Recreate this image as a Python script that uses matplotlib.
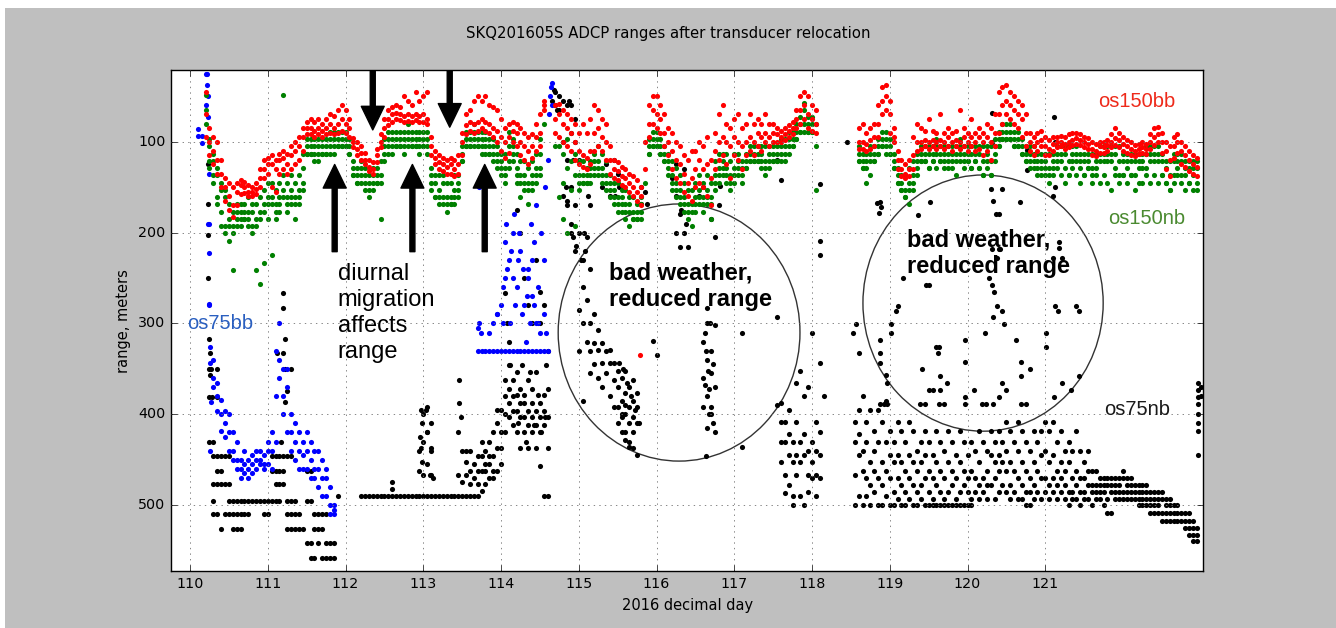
import numpy as np
import matplotlib.pyplot as plt
from matplotlib.patches import Ellipse, Rectangle

N = None

# Ranges, one row of 20 values per day (0.05 day steps).
# os150bb (red): middle, upper and lower edge of the band
bb150_mid = {
    110: [N, N, N, N, 70, 100, 110, 120, 135, 150, 160, 170, 155, 148, 150, 155, 155, 152, 140, 130],
    111: [125, 125, 130, 120, 118, 125, 115, 110, 105, 95, 85, 85, 88, 85, 88, 85, 80, 85, 80, 75],
    112: [80, 85, 100, 108, 112, 120, 128, 130, 115, 100, 85, 75, 70, 68, 70, 72, 70, 72, 70, 72],
    113: [70, 75, 105, 118, 122, 125, 128, 125, 130, 125, 100, 82, 78, 80, 78, 75, 78, 80, 85, 88],
    114: [95, 100, 95, 88, 90, 100, 105, 110, 105, 95, 90, 60, N, N, 75, 70, 80, 85, 90, 100],
    115: [110, 115, 118, 110, 90, 85, 95, 100, 120, 130, 132, 138, 140, 145, 150, 155, 160, 130, 80, 65],
    116: [70, 75, 90, 100, 110, 120, 125, 135, 145, 140, 130, 120, 130, 125, 140, 110, 100, 95, 100, 105],
    117: [95, 100, 105, 100, 95, 100, 90, 95, 90, 95, 90, 92, 95, 92, 88, 85, 75, 65, 60, 70],
    118: [75, 80, N, N, N, N, N, N, N, N, N, N, 100, 100, 102, 98, 95, 80, 55, 50],
    119: [70, 95, 120, 130, 135, 130, 115, 100, 100, 98, 100, 98, 100, 98, 100, 95, 100, 98, 100, 95],
    120: [100, 95, 100, 95, 100, 95, 100, 90, 70, 60, 55, 60, 65, 70, 75, 90, 100, 105, 100, 98],
    121: [105, 108, 102, 100, 100, 102, 100, 98, 96, 98, 100, 102, 108, 110, 105, 106, 104, 100, 96, 98],
    122: [102, 105, 108, 110, 108, 106, 108, 100, 95, 92, 100, 110, 120, 105, 100, 110, 115, 120, 125, 128],
}
bb150_top = {
    110: [N, N, N, N, 45, 85, 95, 100, 120, 140, 145, 150, 145, 142, 144, 148, 150, 145, 130, 120],
    111: [118, 115, 120, 113, 110, 113, 105, 100, 95, 85, 78, 75, 78, 75, 80, 75, 70, 72, 65, 60],
    112: [65, 75, 96, 100, 105, 112, 120, 122, 108, 92, 75, 65, 62, 60, 62, 50, 55, 60, 45, 55],
    113: [50, 45, 95, 110, 115, 118, 120, 118, 120, 115, 90, 70, 65, 55, 50, 55, 50, 60, 62, 65],
    114: [75, 85, 80, 78, 80, 85, 90, 95, 92, 80, 70, 55, N, N, 60, 58, 65, 70, 75, 80],
    115: [90, 80, 90, 75, 60, 65, 75, 80, 105, 120, 122, 128, 130, 135, 138, 142, 150, 100, 60, 50],
    116: [50, 60, 70, 85, 90, 100, 105, 115, 120, 110, 110, 100, 105, 95, 120, 90, 70, 60, 80, 85],
    117: [75, 70, 85, 80, 70, 80, 75, 80, 70, 80, 80, 85, 88, 85, 82, 78, 65, 50, 45, 50],
    118: [60, 65, N, N, N, N, N, N, N, N, N, N, 85, 80, 90, 85, 80, 60, 40, 38],
    119: [55, 85, 110, 120, 125, 120, 95, 80, 85, 88, 75, 88, 90, 70, 90, 85, 90, 88, 65, 85],
    120: [90, 75, 90, 85, 90, 80, 85, 70, 45, 40, 38, 45, 50, 55, 60, 70, 90, 95, 90, 88],
    121: [95, 98, 95, 95, 94, 95, 92, 90, 90, 92, 95, 96, 100, 102, 100, 100, 98, 92, 85, 90],
    122: [95, 98, 100, 104, 102, 100, 102, 92, 85, 84, 90, 100, 105, 95, 92, 100, 105, 110, 115, 118],
}
bb150_low = {
    110: [N, N, N, N, 95, 115, 125, 135, 150, 165, 175, 183, 170, 158, 156, 160, 160, 158, 150, 140],
    111: [135, 150, 155, 135, 130, 135, 130, 125, 120, 110, 92, 92, 95, 92, 95, 92, 90, 92, 90, 88],
    112: [90, 95, 106, 115, 120, 125, 132, 135, 122, 106, 95, 82, 78, 75, 76, 78, 77, 78, 76, 78],
    113: [78, 80, 115, 125, 130, 132, 135, 135, 138, 135, 115, 92, 88, 90, 88, 85, 88, 90, 95, 100],
    114: [110, 118, 112, 100, 105, 115, 120, 125, 118, 110, 105, 65, N, N, 90, 95, 100, 105, 110, 120],
    115: [125, 128, 130, 125, 110, 105, 110, 120, 135, 140, 142, 148, 150, 155, 160, 165, 170, N, 95, 80],
    116: [85, 90, 105, 115, 130, 140, 145, 155, 160, 165, 150, 145, 150, 160, 170, 130, 120, 115, 125, 140],
    117: [115, 120, 130, 115, 110, 115, 105, 110, 100, 105, 100, 100, 100, 98, 95, 92, 85, 80, 75, 85],
    118: [88, 90, N, N, N, N, N, N, N, N, N, N, 108, 108, 110, 108, 105, 95, 70, 65],
    119: [90, 100, 130, 138, 140, 138, 130, 110, 108, 105, 108, 105, 108, 105, 108, 105, 110, 105, 108, 105],
    120: [110, 105, 110, 108, 115, 110, 120, 105, 90, 80, 70, 75, 80, 85, 95, 105, 110, 115, 110, 105],
    121: [115, 115, 110, 106, 105, 108, 106, 104, 102, 104, 106, 108, 115, 116, 112, 112, 110, 106, 104, 106],
    122: [110, 112, 115, 116, 114, 112, 114, 108, 104, 100, 112, 130, 138, 118, 112, 125, 128, 132, 135, 138],
}

# os150nb (green): four bin rows
nb150_a = {
    110: [N, N, N, N, 65, 105, 121, 137, 145, 161, 169, 177, 177, 177, 169, 177, 177, 169, 161, 153],
    111: [145, 145, 153, 145, 137, 145, 137, 145, 137, 113, 97, 97, 105, 97, 97, 97, 89, 97, 89, 89],
    112: [89, 97, 121, 129, 129, 137, 137, 137, 129, 121, 105, 97, 97, 89, 89, 97, 89, 89, 89, 97],
    113: [89, 97, 129, 137, 137, 145, 145, 145, 137, 137, 105, 89, 89, 89, 89, 97, 97, 97, 105, 105],
    114: [113, 113, 105, 105, 113, 121, 121, 129, 121, 113, 113, 81, N, N, 105, 105, 113, 97, 121, 113],
    115: [121, 121, 129, 121, 113, 105, 113, 121, 137, 145, 145, 153, 153, 161, 161, 169, 169, 145, 97, 89],
    116: [89, 97, 105, 113, 121, 129, 137, 145, 153, 153, 145, 137, 145, 137, 145, 121, 113, 113, 113, 121],
    117: [113, 113, 121, 113, 105, 105, 105, 105, 105, 105, 105, 105, 105, 105, 97, 89, 81, 73, 65, 73],
    118: [73, 81, N, N, N, N, N, N, N, N, N, N, 105, 113, 113, 105, 105, 97, 89, 89],
    119: [97, 113, 129, 137, 137, 129, 121, 113, 105, 105, 105, 105, 105, 105, 105, 105, 105, 105, 105, 105],
    120: [105, 105, 105, 105, 105, 105, 105, 97, 89, 81, 81, 81, 89, 89, 97, 105, 105, 105, 113, 113],
    121: [113, 113, 113, 105, 105, 105, 105, 105, 105, 113, 113, 113, 113, 113, 105, 105, 105, 105, 105, 105],
    122: [113, 113, 113, 113, 113, 113, 105, 105, 105, 105, 113, 121, 121, 113, 113, 113, 121, 121, 121, 121],
}
nb150_b = {
    110: [N, N, N, N, 81, 121, 137, 161, 177, 193, 185, 193, 185, 185, 177, 185, 193, 185, 177, 169],
    111: [161, 161, 169, 161, 153, 161, 153, 161, 153, 129, 105, 105, 113, 113, 105, 105, 105, 105, 97, 97],
    112: [97, 105, 129, 137, 137, 145, 145, 145, 137, 137, 113, 105, 105, 97, 97, 105, 97, 97, 97, 105],
    113: [97, 105, 137, 145, 153, 161, 161, 161, 153, 145, 113, 97, 97, 97, 97, 105, 105, 105, 113, 113],
    114: [121, 129, 121, 113, 129, 137, 137, 145, 137, 129, 129, N, N, N, N, 161, 145, 129, 153, 137],
    115: [137, 137, 137, 129, 121, 121, 129, 137, 145, 153, 161, 161, 169, 169, 177, 177, 177, N, 105, 97],
    116: [97, 105, 113, 121, 137, 145, 153, 161, 169, 169, 161, 153, 161, 153, 161, 137, 129, 121, 129, 137],
    117: [129, 121, 129, 121, 113, 113, 113, 113, 121, 113, 113, 113, 113, 113, 105, 97, 89, 81, 81, 81],
    118: [81, 105, N, N, N, N, N, N, N, N, N, N, 113, 121, 121, 113, 113, 105, 97, 97],
    119: [105, 121, 137, 145, 153, 145, 137, 121, 113, 113, 113, 113, 113, 113, 113, 113, 113, 113, 113, 113],
    120: [113, 113, 113, 113, 121, 113, 121, 105, 97, 89, 89, 89, 97, 97, 105, 113, 113, 113, 121, 121],
    121: [121, 129, 121, 113, 113, 113, 121, 113, 113, 121, 121, 121, 129, 121, 113, 113, 113, 113, 113, 121],
    122: [121, 121, 121, 121, 121, 121, 113, 113, 113, 113, 121, 129, 137, 121, 121, 121, 129, 129, 129, 129],
}
nb150_c = {
    110: [N, N, N, N, 49, 97, 113, 129, 153, 153, 209, 241, 169, 169, 185, 161, 169, 241, 257, 233],
    111: [185, 225, 185, 177, 49, 177, 169, 185, 169, 153, 113, 113, 97, 105, 113, 113, 97, 89, 105, 105],
    112: [105, 113, 137, 145, 121, 129, 161, 129, 145, 185, 97, 89, 89, 105, 105, 89, 81, 105, 105, 89],
    113: [105, 89, 145, 161, 169, 137, 177, 169, 169, 161, 121, 105, 105, 81, 105, 89, 89, 113, 97, 129],
    114: [137, 145, 89, 97, 145, 161, 153, 169, 153, 145, 97, N, N, N, N, N, 185, 201, N, 193],
    115: [153, 145, 145, 145, 137, 137, 145, 153, 161, 169, 177, 177, 185, 193, 185, 185, 161, N, 113, 105],
    116: [105, 113, 121, 137, 153, 161, 169, 177, 185, 193, 177, 169, 177, 169, 185, 153, 145, 137, 145, 153],
    117: [145, 137, 145, 129, 121, 121, 121, 129, 137, 129, 121, 121, 97, 97, 89, 105, 97, 89, 57, 89],
    118: [89, 153, N, N, N, N, N, N, N, N, N, N, 121, 129, 145, 137, 121, 113, 105, 113],
    119: [113, 129, 145, 153, 161, 169, 153, 137, 121, 121, 129, 121, 97, 121, 129, 121, 129, 121, 97, 121],
    120: [121, 129, 121, 129, 137, 129, 137, 121, 105, 97, 97, 97, 105, 105, 113, 121, 121, 129, 137, 129],
    121: [137, 145, 129, 121, 121, 129, 137, 121, 121, 129, 137, 129, 137, 129, 121, 121, 121, 121, 129, 137],
    122: [137, 129, 137, 137, 129, 129, 129, 121, 121, 121, 137, 145, 153, 137, 129, 137, 137, 145, 137, 145],
}
nb150_d = {
    110: [N, N, N, N, N, 129, 145, 169, 193, 201, 193, 201, 193, 193, 185, 193, 201, 193, 185, 177],
    111: [169, 169, 177, 169, 161, 169, 161, 169, 161, 145, 113, 113, 121, 121, 113, 113, 113, 113, 105, 105],
    112: [105, 113, 137, 145, 145, 153, 153, 153, 145, 145, 121, 113, 113, 105, 105, 113, 105, 105, 105, 113],
    113: [105, 113, 153, 161, 161, 169, 169, 169, 161, 153, 121, 105, 105, 105, 105, 113, 113, 113, 121, 121],
    114: [129, 137, 129, 121, 137, 145, 145, 153, 145, 137, 137, N, N, N, N, N, N, N, N, N],
    115: [145, 145, 145, 137, 129, 129, 137, 145, 153, 161, 169, 169, 177, 177, 185, 185, 185, N, 113, 105],
    116: [105, 113, 121, 129, 145, 153, 161, 169, 177, 177, 169, 161, 169, 161, 169, 145, 137, 129, 137, 145],
    117: [137, 129, 137, 129, 121, 121, 121, 121, 129, 121, 121, 121, 121, 121, 113, 105, 97, 89, 89, 89],
    118: [89, N, N, N, N, N, N, N, N, N, N, N, 121, 129, 129, 121, 121, 113, 105, 105],
    119: [113, 129, 145, 153, 161, 153, 145, 129, 121, 121, 129, 121, 129, 121, 121, 129, 121, 137, 121, 129],
    120: [121, 129, 121, 129, 137, 121, 137, 113, 105, 97, 97, 97, 105, 105, 113, 121, 129, 121, 129, 137],
    121: [129, 137, 137, 129, 137, 145, 137, 129, 137, 145, 137, 129, 145, 137, 145, 137, 145, 153, 137, 145],
    122: [137, 145, 137, 153, 145, 145, 137, 145, 137, 145, 137, 145, 153, 145, 137, 145, 153, 145, 153, 153],
}

# os75bb (blue)
bb75_a = {
    110: [N, N, 86, 94, 60, 280, 340, 380, 400, 410, 420, 440, 450, 460, 455, 450, 445, 450, 440, 445],
    111: [440, 420, 380, 360, 350, 370, 400, 430, 440, 430, 440, 450, 440, 460, 470, 460, 480, 500, N, N],
    113: [N] * 14 + [330, 330, 330, 330, 330, 330],
    114: [330, 330, 330, 330, 330, 330, 330, 330, 330, 330, 330, 330, 330, 60, N, N, N, N, N, N],
}
bb75_b = {
    110: [N, N, 94, 101, 25, 190, 370, 396, 418, 425, 440, 450, 460, 470, 465, 460, 455, 460, 450, 455],
    111: [455, 440, 430, 300, 400, 420, 440, 450, 460, 460, 460, 470, 460, 480, 450, 490, 500, 510, N, N],
    113: [N] * 14 + [305, N, N, 310, 300, 290],
    114: [280, 250, 230, 200, 260, 220, 280, 240, 270, 300, 310, 230, 120, 35, N, N, N, N, N, N],
}
bb75_c = {
    110: [N, N, N, N, N, N, 360, 366, 384, 396, 400, 420, 430, 450, 440, 470, 465, 440, 455, 460],
    111: [430, 460, 330, 340, 380, 350, 420, 410, 420, 445, 420, 430, 470, 440, 490, 470, 510, 505, N, N],
}
bb75_scatter = [
    (110.22, 25), (110.22, 38), (110.23, 50), (110.23, 73), (110.24, 135), (110.23, 190),
    (110.24, 223), (110.25, 279), (110.26, 326), (110.26, 344), (110.27, 386), (110.26, 440),
    (113.72, 300), (113.74, 310), (113.72, 150), (113.95, 290), (114.02, 300), (114.03, 260),
    (114.05, 210), (114.07, 190), (114.08, 240), (114.12, 300), (114.13, 220), (114.17, 180),
    (114.18, 280), (114.22, 230), (114.23, 200), (114.27, 290), (114.28, 240), (114.32, 320),
    (114.33, 270), (114.37, 300), (114.38, 190), (114.42, 280), (114.43, 210), (114.47, 260),
    (114.48, 300), (114.52, 200), (114.55, 290), (114.57, 150), (114.62, 70), (114.63, 50),
    (114.64, 40), (114.58, 310), (114.45, 170), (114.40, 230), (114.15, 250), (114.35, 250),
]

# os75nb (black): four bin rows plus scattered pings
nb75_a = {
    110: [N, N, N, N, N, 317, 446, 446, 446, 446, 446, N, N, N, N, N, N, N, N, N],
    111: [N, 446, 446, 446, 446, 446, 446, N, N, N, 462, 462, N, N, N, N, N, N, 490, N],
    112: [N, N, N, N] + [490] * 16,
    113: [490] * 15 + [484, 477, 470, 470, 462],
    114: [420, 400, 388, 380, 396, 388, 403, 412, 403, 396, 403, 412, 403, 55, 45, 50, 55, 60, 90, 100],
    115: [120, 230, 205, 240, N, N, 150, 125, 160, N, 352, 360, 352, 370, 362, 377, 150, N, N, 319],
    116: [335, N, N, N, 140, 160, 180, 130, N, N, N, 160, 320, 300, 330, 302, N, N, N, N],
    117: [N, N, 311, N, N, N, N, N, N, N, N, 293, 388, 409, 395, 430, 365, 352, 380, 370],
    118: [311, 409, 343, 380, N, N, N, N, N, N, N, 409, 395, 380, 409, 395, 418, 395, 409, 385],
    119: [418, 430, 409, 418, 430, 409, 418, 440, 430, 418, 430, 445, 418, 430, 440, 418, 430, 445, 418, 430],
    120: [445, 430, 440, 418, 430, 440, 418, 430, 418, 430, 409, 418, 430, 409, 418, 430, 440, 418, 430, 418],
    121: [409, 418, 409, 430, 418, 440, 430, 440, 418, 440, 452, 440, 462, 462, 470, 470, 470, 470, 470, 470],
    122: [462, 470, 470, 478, 478, 478, 478, 485, 485, 485, 485, 493, 493, 500, 500, 509, 509, 509, 517, 525],
}
nb75_b = {
    110: [N, N, N, N, N, 350, 477, 462, 462, 477, 477, 495, 495, 495, 495, 495, 495, 495, 495, 495],
    111: [495, 495, 495, 495, 477, 495, 495, 495, N, N, 495, 495, 510, 510, 510, 510, N, N, N, N],
    112: [N] * 12 + [475, N, N, N, N, N, N, 440],
    113: [400, 392, 410, N, N, N, N, N, N, 467, 475, 467, 462, 470, 462, 462, 455, 446, 446, 437],
    114: [395, 380, 372, 362, 379, 372, 388, 396, 388, 412, 388, 396, 437, N, 60, 65, 100, 120, 150, 170],
    115: [200, 260, 274, 300, 290, 307, 322, 330, 329, 344, 370, 385, 377, 392, 385, 392, 168, N, N, N],
    116: [N, N, N, N, N, 200, 216, N, N, N, N, N, 360, 340, 355, 370, 170, N, N, N],
    117: [N, N, 436, N, N, N, N, N, N, N, N, 390, 409, 430, 422, 452, 409, 430, 422, 440],
    118: [430, 440, 420, N, N, N, N, N, N, N, N, 430, 422, 440, 430, 452, 440, 430, 452, 430],
    119: [445, 452, 445, 452, 462, 445, 452, 462, 452, 445, 462, 470, 452, 462, 470, 452, 462, 470, 452, 462],
    120: [470, 462, 470, 452, 470, 462, 445, 452, 445, 452, 440, 452, 462, 440, 452, 462, 470, 452, 462, 445],
    121: [440, 452, 445, 462, 452, 462, 452, 470, 462, 470, 470, 462, 478, 478, 478, 478, 478, 478, 478, 478],
    122: [470, 478, 478, 485, 485, 485, 485, 493, 493, 493, 493, 500, 500, 509, 509, 517, 517, 517, 525, 533],
}
nb75_c = {
    110: [N, N, N, N, N, 381, 495, 477, 477, N, 495, 510, 510, 510, 510, 510, N, N, N, 510],
    111: [510, 462, 462, 462, 462, 510, 510, 510, 510, N, 542, 542, 526, 526, 526, 542, 542, 542, N, N],
    112: [N] * 12 + [482, N, N, N, N, N, N, 462],
    113: [430, 420, 440, N, N, N, N, N, N, 420, 440, 452, 477, 455, 446, 446, 440, 430, 420, 410],
    114: [437, 420, 403, 396, 419, 403, 419, 437, 419, 437, 419, 379, 372, N, N, N, 160, 170, 200, 220],
    115: [285, 300, 320, 330, 322, 329, 344, 355, 344, 362, 392, 403, 400, 410, 403, 410, N, N, N, N],
    116: [N] * 12 + [392, 380, 400, 420, N, N, N, N],
    117: [N] * 12 + [430, 467, 445, 490, 445, 452, 445, 467],
    118: [452, 467, 445, N, N, N, N, N, N, N, N, 467, 445, 462, 470, 478, 462, 470, 478, 462],
    119: [470, 485, 470, 478, 485, 470, 478, 485, 478, 470, 485, 493, 478, 485, 493, 485, 478, 493, 485, 478],
    120: [485, 493, 485, 478, 485, 478, 478, 470, 462, 478, 462, 478, 485, 470, 478, 485, 485, 478, 485, 470],
    121: [470, 478, 470, 478, 470, 478, 485, 485, 478, 485, 485, 478, 485, 485, 485, 485, 493, 485, 485, 485],
    122: [485, 485, 485, 493, 493, 493, 493, 500, 500, 500, 509, 509, 509, 517, 517, N, 525, 525, 533, 540],
}
nb75_d = {
    110: [N, N, N, N, N, 430, 510, 510, 526, 510, 510, 526, 526, 526, N, N, N, N, N, N],
    111: [N, N, 477, 477, N, 526, 526, 526, 526, 526, N, 558, 558, 542, 558, 558, 558, 558, N, N],
    113: [N, 455, 467] + [N] * 11 + [477, 430, 462, 455, 462, 395],
    114: [455, 362, 346, 412, 353, 437, 379, 362, 372, 353, 457, 490, 490, N, N, N, N, N, N, N],
    115: [330, 385, N, 355, 345, 360, 370, N, 380, 392, 410, 420, 428, 436, 420, 445, N, N, N, N],
    116: [N] * 12 + [150, 415, 185, 205, N, N, N, N],
    117: [N] * 12 + [452, 487, 478, 500, 467, 490, 500, 485],
    118: [470, 490, 470, N, N, N, N, N, N, N, N, 500, 490, 500, 490, 500, 485, 500, 500, 490],
    119: [500, 500, 493, 500, 500, 493, 500, 500, 493, 500, 500, 500, 500, 500, 500, 500, 500, 500, 500, 500],
    120: [500, 500, N, 493, N, 493, N, 493, 485, N, 485, 493, N, 493, 493, 500, 500, 493, N, 493],
    121: [485, 493, 485, 493, 485, 493, 500, 493, 493, 500, 493, 493, 500, 493, 493, 500, 509, 509, 493, 493],
    122: [493, 493, 493, N, 500, 500, 500, 509, 509, 509, 517, 517, 517, N, N, N, N, 533, 540, N],
}
nb75_scatter = [
    (110.23, 125), (110.23, 168), (110.23, 203), (110.23, 250), (110.26, 333), (110.27, 350),
    (110.26, 357), (110.28, 381), (110.35, 350), (110.35, 381), (110.30, 430),
    (111.20, 283), (111.20, 266), (111.22, 317), (111.20, 333), (111.22, 350), (111.30, 350),
    (111.25, 374), (111.22, 386), (111.12, 333), (111.17, 430),
    (112.97, 395), (112.98, 410), (112.97, 437), (112.98, 452), (113.00, 467), (113.05, 420),
    (113.04, 395), (113.10, 437), (113.08, 467), (112.96, 425), (113.13, 470),
    (113.46, 362), (113.46, 388), (113.48, 403), (113.55, 440), (113.60, 440),
    (114.05, 266), (114.08, 300), (114.10, 320), (114.50, 265), (114.55, 280), (114.50, 300),
    (114.60, 330), (114.58, 346), (114.40, 300), (114.20, 175), (114.25, 200), (114.35, 280),
    (114.45, 230), (114.30, 250), (114.12, 346), (114.22, 410), (114.32, 430), (114.42, 412),
    (114.52, 420), (114.57, 403), (114.47, 379), (114.37, 353), (114.27, 346),
    (114.68, 43), (114.72, 65), (114.87, 55), (114.90, 60), (114.95, 75), (114.93, 120),
    (114.83, 150), (114.85, 165), (114.90, 190), (114.93, 205), (114.97, 215), (115.03, 230),
    (115.07, 200), (115.08, 220), (115.12, 160), (115.15, 170),
    (115.45, 120), (115.50, 135), (115.52, 150), (115.47, 160), (115.85, 155), (115.88, 168),
    (115.52, 344), (115.57, 350), (115.62, 365), (115.67, 380), (115.72, 395), (115.77, 410),
    (115.60, 420), (115.65, 430), (115.70, 437), (115.55, 400), (115.60, 390),
    (116.25, 124), (116.32, 175), (116.35, 200), (116.40, 216), (116.38, 190), (116.82, 149),
    (116.62, 310), (116.64, 330), (116.66, 352), (116.68, 372), (116.70, 392), (116.72, 410),
    (116.65, 283), (116.69, 300), (116.73, 345), (116.62, 368), (116.67, 400), (116.63, 446),
    (117.55, 120), (117.60, 142), (118.10, 146), (118.10, 209), (118.10, 225), (118.84, 167),
    (118.86, 178), (118.45, 100), (118.87, 166), (118.89, 172), (119.36, 181), (119.52, 166),
    (120.31, 68), (120.31, 100), (120.30, 152), (120.45, 152), (120.33, 165), (120.37, 180),
    (120.40, 180), (120.68, 166), (120.77, 109), (120.77, 131), (121.11, 73), (121.12, 100),
    (121.12, 150), (121.10, 160), (121.18, 210), (121.18, 217), (121.10, 228), (121.22, 228),
    (120.31, 218), (120.40, 218), (120.42, 218), (120.38, 228), (120.27, 250), (120.32, 258),
    (120.34, 265), (119.17, 250), (119.47, 258), (119.51, 258), (119.10, 281), (120.38, 281),
    (121.13, 281), (121.40, 281),
    (118.53, 310), (118.57, 301), (118.60, 333), (118.87, 318), (118.87, 333), (118.87, 343),
    (118.95, 357), (118.96, 366), (119.02, 301), (119.02, 310), (119.08, 286), (119.41, 350),
    (119.50, 373), (119.56, 373), (119.64, 373), (119.60, 326), (119.63, 326), (119.62, 333),
    (119.64, 358), (119.73, 366), (119.97, 318), (119.97, 342), (119.97, 381), (120.08, 373),
    (120.22, 310), (120.33, 293), (120.45, 286), (120.45, 366), (120.47, 301), (120.50, 373),
    (120.41, 381), (120.63, 318), (120.69, 342), (120.69, 358), (120.80, 350), (121.01, 310),
    (121.01, 326), (121.11, 381), (121.16, 286), (121.22, 366), (121.33, 373), (121.44, 286),
    (121.44, 358),
    (118.87, 389), (118.92, 389), (118.96, 389), (119.39, 389), (119.45, 389), (119.63, 389),
    (119.70, 389), (119.97, 389), (120.19, 389), (120.24, 389), (120.33, 389), (120.69, 389),
    (120.75, 389),
    (122.96, 366), (122.97, 373), (122.97, 381), (122.97, 389), (122.96, 400), (122.96, 410),
    (122.97, 418), (122.96, 445), (123.00, 370), (123.00, 380),
]
bb150_scatter = [(115.79, 335)]


def unpack(*tracks, extra=()):
    x, y = [], []
    for track in tracks:
        for day, row in track.items():
            for i, v in enumerate(row):
                if v is not None:
                    x.append(day + 0.05 * i)
                    y.append(v)
    for d, v in extra:
        x.append(d)
        y.append(v)
    return x, y


plt.style.use("classic")
fig = plt.figure(figsize=(13.36, 6.28), dpi=100, facecolor="#bfbfbf")
ax = fig.add_axes([0.128, 0.090, 0.7728, 0.7986])

dot = dict(linestyle="none", marker="o", markersize=3.7, markeredgewidth=0)
x, y = unpack(nb75_a, nb75_b, nb75_c, nb75_d, extra=nb75_scatter)
ax.plot(x, y, color="k", **dot)
x, y = unpack(bb75_a, bb75_b, bb75_c, extra=bb75_scatter)
ax.plot(x, y, color="b", **dot)
x, y = unpack(nb150_a, nb150_b, nb150_c, nb150_d)
ax.plot(x, y, color="g", **dot)
x, y = unpack(bb150_mid, bb150_top, bb150_low, extra=bb150_scatter)
ax.plot(x, y, color="r", **dot)

ax.set_xlim(109.755, 123.035)
ax.set_ylim(573, 21)
ax.set_xticks(range(110, 122))
ax.set_yticks([100, 200, 300, 400, 500])
ax.grid(True, linestyle=":", color="0.45", linewidth=0.6)
ax.tick_params(labelsize=10.3)

ax.set_xlabel("2016 decimal day", fontsize=10.5)
ax.set_ylabel("range, meters", fontsize=10.5)
fig.suptitle("SKQ201605S ADCP ranges after transducer relocation", fontsize=10.7, y=0.946, va="center")

# annotations
sans = "Liberation Sans"
ax.text(121.68, 56, "os150bb", color="#ee2a1a", fontsize=14.5, family=sans, va="center")
ax.text(121.81, 184, "os150nb", color="#4a8a30", fontsize=14.5, family=sans, va="center")
ax.text(109.96, 300, "os75bb", color="#2a5fc0", fontsize=14.5, family=sans, va="center")
ax.text(121.76, 395, "os75nb", color="#1a1a1a", fontsize=14.5, family=sans, va="center")
ax.text(111.9, 233, "diurnal\nmigration\naffects\nrange", fontsize=17, family=sans,
        va="top", linespacing=1.25)
ax.text(115.39, 231.5, "bad weather,\nreduced range", fontsize=17, family=sans,
        fontweight="bold", va="top")
ax.text(119.22, 195, "bad weather,\nreduced range", fontsize=17, family=sans,
        fontweight="bold", va="top")

ax.add_patch(Ellipse((116.29, 310), 3.11, 283, fill=False, ec="#333333", lw=1))
ax.add_patch(Ellipse((120.2, 277.6), 3.09, 282, fill=False, ec="#333333", lw=1))

arrow = dict(facecolor="black", edgecolor="black", width=3.6, headwidth=16.5,
             headlength=17, shrink=0)
for xd, tip in [(112.35, 87), (113.34, 84)]:
    ax.annotate("", xy=(xd, tip), xytext=(xd, 22), arrowprops=arrow)
for xd in [111.86, 112.86, 113.79]:
    ax.annotate("", xy=(xd, 125), xytext=(xd, 221), arrowprops=arrow)

# white margin of the original screenshot
fig.patches.append(Rectangle((0, 1 - 7.5 / 628), 1, 7.5 / 628, transform=fig.transFigure,
                             facecolor="white", edgecolor="none"))
fig.patches.append(Rectangle((0, 0), 5 / 1336, 1, transform=fig.transFigure,
                             facecolor="white", edgecolor="none"))

fig.savefig("out.png", dpi=100, facecolor=fig.get_facecolor())
